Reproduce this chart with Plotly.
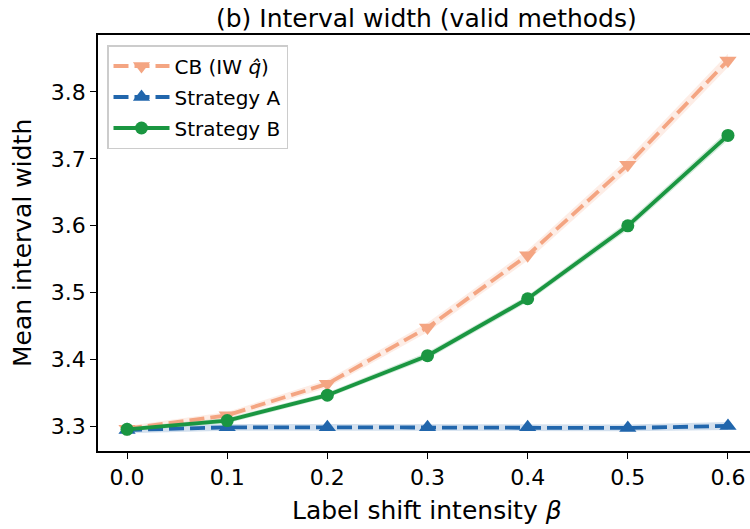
import plotly.graph_objects as go

beta = [0.0, 0.1, 0.2, 0.3, 0.4, 0.5, 0.6]
cb_mean = [3.297, 3.317, 3.364, 3.448, 3.556, 3.691, 3.847]
cb_err = [0.004, 0.005, 0.006, 0.007, 0.008, 0.009, 0.010]
a_mean = [3.295, 3.299, 3.299, 3.299, 3.299, 3.298, 3.301]
a_err = [0.005, 0.005, 0.005, 0.005, 0.005, 0.005, 0.006]
b_mean = [3.296, 3.309, 3.347, 3.406, 3.491, 3.600, 3.735]
b_err = [0.003, 0.004, 0.004, 0.005, 0.005, 0.006, 0.007]

x_ticks = [0.0, 0.1, 0.2, 0.3, 0.4, 0.5, 0.6]
x_ticklabels = ["0.0", "0.1", "0.2", "0.3", "0.4", "0.5", "0.6"]
y_ticks = [3.3, 3.4, 3.5, 3.6, 3.7, 3.8]
y_ticklabels = ["3.3", "3.4", "3.5", "3.6", "3.7", "3.8"]

series = [
    ("CB (IW <i>q̂</i>)", cb_mean, cb_err, "#f4a582", "rgba(244,165,130,0.2)", "15px,6px", "triangle-down", 15),
    ("Strategy A", a_mean, a_err, "#2166ac", "rgba(33,102,172,0.2)", "15px,6px", "triangle-up", 15),
    ("Strategy B", b_mean, b_err, "#1a9641", "rgba(26,150,65,0.2)", "solid", "circle", 13),
]

FONT = "DejaVu Sans"
W, H = 750, 529
L, T, R, B = 98, 35, 0, 78
PW, PH = W - L - R, H - T - B


def px(sx):
    return (sx - L) / PW


def py(sy):
    return (H - B - sy) / PH


fig = go.Figure()
for name, m, e, col, fcol, dash, sym, ms in series:
    up = [v + d for v, d in zip(m, e)]
    lo = [v - d for v, d in zip(m, e)]
    fig.add_trace(go.Scatter(x=beta + beta[::-1], y=up + lo[::-1], fill="toself",
                             fillcolor=fcol, line=dict(width=0), hoverinfo="skip",
                             showlegend=False, mode="lines"))
for name, m, e, col, fcol, dash, sym, ms in series:
    fig.add_trace(go.Scatter(x=beta, y=m, name=name, mode="lines+markers", legendgroup=name,
                             line=dict(color=col, width=3.8, dash=dash),
                             marker=dict(symbol=sym, size=ms, color=col, line=dict(width=0))))

fig.update_layout(
    width=W, height=H,
    margin=dict(l=L, r=R, t=T, b=B, autoexpand=False),
    paper_bgcolor="white", plot_bgcolor="white",
    font=dict(family=FONT, size=20, color="black"),
    showlegend=True,
    legend=dict(x=px(107), y=py(45), xanchor="left", yanchor="top",
                bgcolor="rgba(255,255,255,0.8)", bordercolor="#cccccc", borderwidth=1.5,
                font=dict(family=FONT, size=20), tracegroupgap=2, itemwidth=56),
    annotations=[
        dict(text="(b) Interval width (valid methods)", x=px(426), y=py(18),
             xref="paper", yref="paper", xanchor="center", yanchor="middle",
             showarrow=False, font=dict(family=FONT, size=25)),
        dict(text="Label shift intensity <i>β</i>", x=px(427), y=py(510),
             xref="paper", yref="paper", xanchor="center", yanchor="middle",
             showarrow=False, font=dict(family=FONT, size=25)),
        dict(text="Mean interval width", x=px(22), y=py(243),
             xref="paper", yref="paper", xanchor="center", yanchor="middle",
             showarrow=False, textangle=-90, font=dict(family=FONT, size=25)),
    ],
)

fig.update_xaxes(range=[-0.029, 0.622], tickvals=x_ticks, ticktext=x_ticklabels,
                 showgrid=False, zeroline=False, showline=True, linecolor="black", linewidth=1.5,
                 mirror=True, ticks="outside", ticklen=6, tickwidth=1.3, tickcolor="black",
                 tickfont=dict(family=FONT, size=22))
fig.update_yaxes(range=[3.2636, 3.885], tickvals=y_ticks, ticktext=y_ticklabels,
                 showgrid=False, zeroline=False, showline=True, linecolor="black", linewidth=1.5,
                 mirror=False, ticks="outside", ticklen=6, tickwidth=1.3, tickcolor="black",
                 tickfont=dict(family=FONT, size=22))

fig.write_html("out.html", config={"displayModeBar": False},
               post_script="document.body.style.margin='0';")
